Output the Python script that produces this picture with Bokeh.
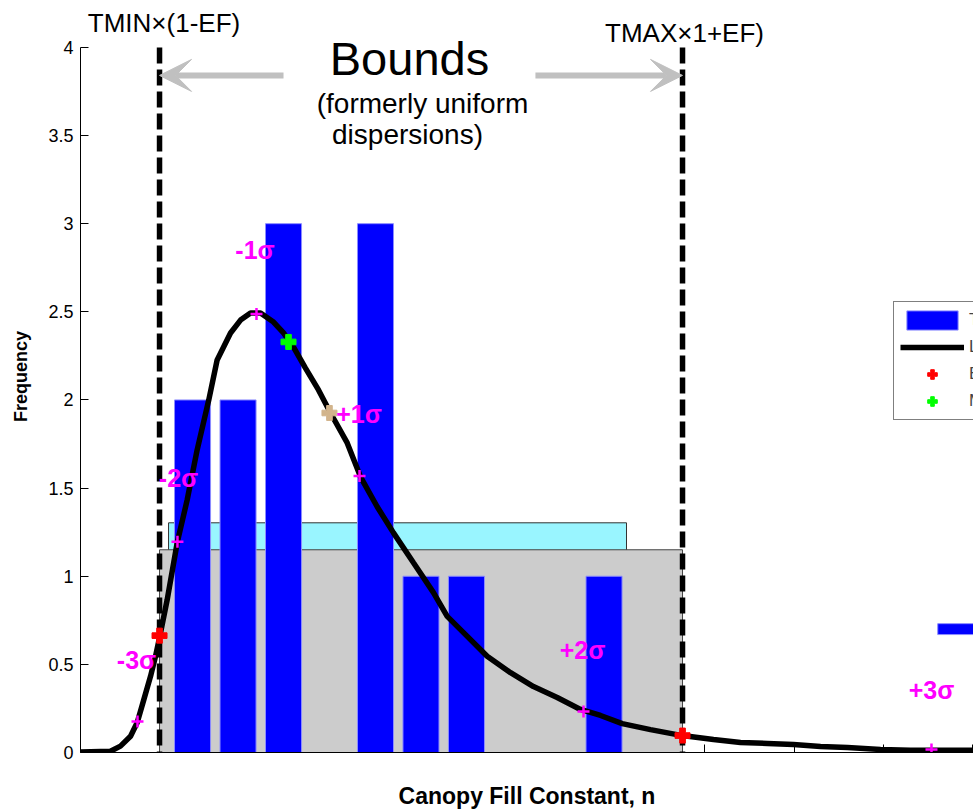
from bokeh.plotting import figure
from bokeh.models import (Range1d, FixedTicker, Legend, LegendItem, Arrow, VeeHead,
                          Label, CustomJSTickFormatter)
from bokeh.embed import file_html
from bokeh.resources import INLINE

# ---------------- data ----------------
bin_centers = [1.256, 1.766, 2.276, 2.786, 3.307, 3.817, 4.327, 4.837, 5.348, 5.869]
bin_counts = [2, 2, 3, 0, 3, 1, 1, 0, 0, 1]
bar_width = 0.404

curve_x = [0.0, 0.336, 0.448, 0.561, 0.636, 0.710, 0.785, 0.841, 0.889, 0.972,
           1.084, 1.196, 1.308, 1.438, 1.532, 1.682, 1.794, 1.906, 2.018, 2.164,
           2.276, 2.388, 2.522, 2.668, 2.803, 2.990, 3.139, 3.326, 3.509, 3.733,
           3.957, 4.111, 4.294, 4.559, 4.821, 5.078, 5.344, 5.605, 5.830, 6.073,
           6.390, 6.746, 7.096, 7.399, 7.702, 7.993, 8.296, 8.599, 8.969, 9.305, 10.011]
curve_y = [0.003, 0.007, 0.036, 0.092, 0.170, 0.300, 0.432, 0.546, 0.659, 0.867,
           1.190, 1.433, 1.717, 2.000, 2.227, 2.380, 2.453, 2.493, 2.493, 2.442,
           2.380, 2.300, 2.181, 2.057, 1.926, 1.756, 1.564, 1.394, 1.246, 1.076,
           0.907, 0.772, 0.680, 0.546, 0.453, 0.374, 0.312, 0.244, 0.210, 0.164,
           0.130, 0.096, 0.074, 0.057, 0.051, 0.045, 0.034, 0.028, 0.017, 0.013, 0.013]

sigma_x = [0.639, 1.087, 1.973, 3.128, 5.639, 9.540]
sigma_y = [0.176, 1.195, 2.487, 1.569, 0.232, 0.017]
sigma_labels = ["-3σ", "-2σ", "-1σ", "+1σ", "+2σ", "+3σ"]
sigma_label_x = [0.628, 1.099, 1.956, 3.122, 5.628, 9.540]
sigma_label_y = [0.527, 1.558, 2.850, 1.921, 0.584, 0.357]

tmin_ef = 0.886      # TMIN x (1-EF)
tmax_ef = 6.749      # TMAX x (1+EF)
bound_y = [0.663, 0.096]
mean_x, mean_y = [2.332], [2.329]
median_x, median_y = [2.791], [1.926]

gray_top = 1.150
cyan_left, cyan_right, cyan_top = 0.987, 6.121, 1.303

y_ticks = [0, 0.5, 1, 1.5, 2, 2.5, 3, 3.5, 4]
x_ticks = [0, 7, 8, 9, 10]

FONT = "Liberation Sans"

p = figure(width=973, height=811, x_range=Range1d(0, 10.011), y_range=Range1d(0, 4.266),
           output_backend="svg", toolbar_location=None,
           min_border_left=80, min_border_right=0, min_border_top=0, min_border_bottom=58)
p.outline_line_color = None
p.grid.visible = False
p.background_fill_color = "white"

# axes
ya = p.yaxis[0]
ya.ticker = FixedTicker(ticks=y_ticks)
ya.formatter = CustomJSTickFormatter(code="return tick.toString()")
ya.bounds = (0, 4)
ya.major_tick_in = 8
ya.major_tick_out = 0
ya.minor_tick_line_color = None
ya.major_label_standoff = 7
ya.major_label_text_font = FONT
ya.major_label_text_font_size = "18px"
ya.major_label_text_color = "black"
ya.axis_line_color = "black"
ya.major_tick_line_color = "black"
ya.axis_label = "Frequency"
ya.axis_label_text_font = FONT
ya.axis_label_text_font_style = "bold"
ya.axis_label_text_font_size = "18px"
ya.axis_label_standoff = 14
ya.axis_label_text_color = "black"

xa = p.xaxis[0]
xa.ticker = FixedTicker(ticks=x_ticks)
xa.formatter = CustomJSTickFormatter(code="return ''")
xa.major_tick_in = 8
xa.major_tick_out = 0
xa.minor_tick_line_color = None
xa.major_label_text_font_size = "10px"
xa.major_label_standoff = 0
xa.axis_line_color = "black"
xa.major_tick_line_color = "black"
xa.axis_label = "Canopy Fill Constant, n"
xa.axis_label_text_font = FONT
xa.axis_label_text_font_style = "bold"
xa.axis_label_text_font_size = "23px"
xa.axis_label_standoff = 30
xa.axis_label_text_color = "black"

# background bound areas
p.quad(left=[cyan_left], right=[cyan_right], bottom=[0], top=[cyan_top],
       fill_color="#99F5FF", line_color="#333333", line_width=1)
p.quad(left=[tmin_ef], right=[tmax_ef], bottom=[0], top=[gray_top],
       fill_color="#CCCCCC", line_color="#444444", line_width=1)

# histogram bars
bx = [c for c, n in zip(bin_centers, bin_counts) if n > 0]
bn = [n for n in bin_counts if n > 0]
bars = p.vbar(x=bx, top=bn, width=bar_width, bottom=0,
              fill_color="#0000FF", line_color="#8C8CFF", line_width=1)

# partial blue patch at right edge
p.quad(left=[9.61], right=[10.5], bottom=[0.669], top=[0.731],
       fill_color="#0000FF", line_color="#8C8CFF", line_width=1)

# fitted curve
curve = p.line(curve_x, curve_y, line_color="black", line_width=5.5)

# sigma labels
for tx, ty, t in zip(sigma_label_x, sigma_label_y, sigma_labels):
    p.add_layout(Label(x=tx, y=ty, text=t, text_font=FONT, text_font_style="bold",
                       text_font_size="25px", text_color="#FF00FF",
                       text_align="center", text_baseline="middle"))

# dashed bound lines
p.segment(x0=[tmin_ef, tmax_ef], y0=[4, 4], x1=[tmin_ef, tmax_ef], y1=[0, 0],
          line_color="black", line_width=5.5, line_dash="16 6")

# markers
p.scatter(sigma_x, sigma_y, marker="cross", size=12, line_color="#FF00FF", line_width=2.5)
red = p.scatter([tmin_ef, tmax_ef], bound_y, marker="plus", size=15,
                fill_color="#FF0000", line_color="#FF0000")
green = p.scatter(mean_x, mean_y, marker="plus", size=15,
                  fill_color="#00FF00", line_color="#00FF00")
p.scatter(median_x, median_y, marker="plus", size=15,
          fill_color="#D2B48C", line_color="#D2B48C")

# arrows
grey = "#C0C0C0"
p.add_layout(Arrow(end=VeeHead(size=32, fill_color=grey, line_color=grey),
                   x_start=2.276, y_start=3.841, x_end=tmin_ef, y_end=3.841,
                   line_color=grey, line_width=6))
p.add_layout(Arrow(end=VeeHead(size=32, fill_color=grey, line_color=grey),
                   x_start=5.10, y_start=3.841, x_end=tmax_ef, y_end=3.841,
                   line_color=grey, line_width=6))

# texts
texts = [
    (0.936, 4.136, "TMIN×(1-EF)", "26px"),
    (6.771, 4.079, "TMAX×1+EF)", "26px"),
    (3.688, 3.938, "Bounds", "47px"),
    (3.834, 3.683, "(formerly uniform", "28px"),
    (3.666, 3.507, "dispersions)", "28px"),
]
for tx, ty, t, fs in texts:
    p.add_layout(Label(x=tx, y=ty, text=t, text_font=FONT, text_font_size=fs,
                       text_color="black", text_align="center", text_baseline="middle"))

legend = Legend(items=[
    LegendItem(label="Tested values", renderers=[bars]),
    LegendItem(label="Lognormal fit", renderers=[curve]),
    LegendItem(label="Bounds", renderers=[red]),
    LegendItem(label="Mean", renderers=[green]),
], location=(813, 332), padding=6, spacing=3, glyph_width=64, glyph_height=24,
    label_height=24, label_standoff=5, margin=0, border_line_color="black",
    border_line_width=1, background_fill_color="white", background_fill_alpha=1,
    label_text_font=FONT, label_text_font_size="17px")
p.add_layout(legend)

open("out.html", "w").write(file_html(p, INLINE))
